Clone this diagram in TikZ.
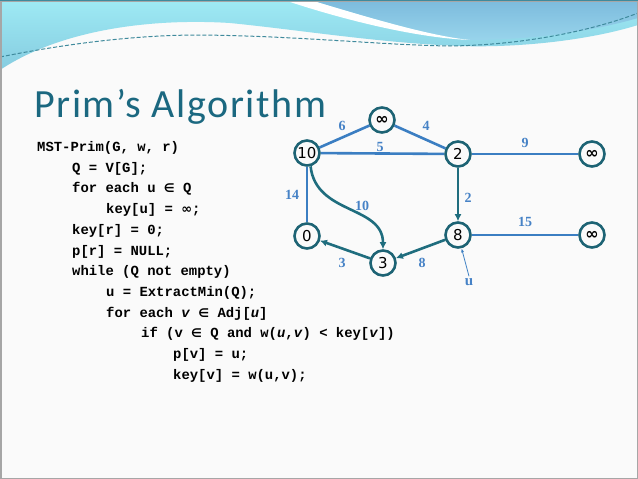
\documentclass[tikz,border=0pt]{standalone}
\usepackage{fontspec}
\setmainfont{Liberation Serif}
\newfontfamily\titlef{Carlito}
\newfontfamily\codef{Liberation Mono}
\newfontfamily\symf{DejaVu Sans}
\usetikzlibrary{arrows.meta}
\definecolor{bgwhite}{HTML}{FAFAFA}
\definecolor{cyanA}{HTML}{9EEAF4}
\definecolor{cyanB}{HTML}{86CCE0}
\definecolor{blueA}{HTML}{7CBBDD}
\definecolor{blueB}{HTML}{98D4EB}
\definecolor{dashc}{HTML}{3F8A9C}
\definecolor{titlec}{HTML}{1B6880}
\definecolor{nodec}{HTML}{1D6374}
\definecolor{treec}{HTML}{1F6D7E}
\definecolor{edgec}{HTML}{3B7EC2}
\definecolor{lblc}{HTML}{4682C6}
\newcommand\myin{{\symf\bfseries\fontsize{12}{14}\selectfont ∈}}
\newcommand\myinf{{\symf\bfseries\fontsize{13}{14}\selectfont ∞}}
\tikzset{
  vtx/.style={circle, draw=nodec, line width=2.6pt, fill=bgwhite, inner sep=0pt,
    minimum size=25pt, font=\symf\fontsize{15}{16}\selectfont},
  infv/.style={vtx, font=\symf\bfseries\fontsize{16}{16}\selectfont},
  edge/.style={draw=edgec, line width=2.6pt},
  tree/.style={draw=treec, line width=2.6pt, -{Latex[length=7pt,width=7pt]}},
  lbl/.style={text=lblc, font=\bfseries\fontsize{14}{14}\selectfont, inner sep=0pt},
  code/.style={anchor=base west, inner sep=0pt, font=\codef\bfseries\fontsize{13.9}{16}\selectfont},
  pointer/.style={draw=edgec, line width=0.8pt, -{Latex[length=4pt,width=3pt]}}
}
\begin{document}
\begin{tikzpicture}[x=1pt, y=-1pt]
\useasboundingbox (0,0) rectangle (638,479);
% background
\fill[bgwhite] (0,0) rectangle (638,479);
\shade[top color=cyanA, bottom color=cyanB] (0,0) -- (638,0) -- (638,25)
  .. controls (590,40) and (520,48) .. (460,46)
  .. controls (380,43) and (300,30) .. (230,23)
  .. controls (150,18) and (60,30) .. (0,70) -- cycle;
\shade[top color=blueA, bottom color=blueB] (310,0) -- (638,0) -- (638,18)
  .. controls (590,32) and (530,40) .. (470,40)
  .. controls (430,36) and (370,18) .. (310,0) -- cycle;
\fill[white] (284,0) -- (310,0) .. controls (370,18) and (430,36) .. (470,40)
  .. controls (420,38) and (350,22) .. (284,0) -- cycle;
\draw[dashc, line width=1pt, dash pattern=on 4pt off 2pt] (0,57)
  .. controls (60,45) and (130,35) .. (200,35)
  .. controls (300,36) and (380,45) .. (450,46)
  .. controls (530,45) and (600,28) .. (638,13);
\draw[gray!70, line width=1.5pt] (0.75,0.75) rectangle (637.25,478.25);
\draw[dashc, line width=1.2pt] (0,0.6) -- (638,0.6);
% title
\node[anchor=base west, inner sep=0pt, text=titlec,
  font=\titlef\fontsize{40}{42}\selectfont\addfontfeatures{LetterSpace=4}] (title) at (34,117) {Prim’s Algorithm};
% code
\node[code] (c1) at (37,151.5) {MST-Prim(G, w, r)};
\node[code] (c2) at (72,172.2) {Q = V[G];};
\node[code] (c3) at (72,192.9) {for each u \myin{} Q};
\node[code] (c4) at (106,213.6) {key[u] = \myinf;};
\node[code] (c5) at (72,234.3) {key[r] = 0;};
\node[code] (c6) at (72,255) {p[r] = NULL;};
\node[code] (c7) at (72,275.7) {while (Q not empty)};
\node[code] (c8) at (106,296.4) {u = ExtractMin(Q);};
\node[code] (c9) at (106,317.1) {for each \textit{v} \myin{} Adj[\textit{u}]};
\node[code] (c10) at (141,337.8) {if (v \myin{} Q and w(\textit{u},\textit{v}) < key[\textit{v}])};
\node[code] (c11) at (173,358.5) {p[v] = u;};
\node[code] (c12) at (173,379.2) {key[v] = w(u,v);};
% graph vertices
\node[vtx] (n10) at (307,153) {10};
\node[infv] (nt) at (382,120) {∞};
\node[vtx] (n2) at (458,154) {2};
\node[infv] (nr1) at (592,154) {∞};
\node[vtx] (n0) at (307,236) {0};
\node[vtx] (n8) at (458,235) {8};
\node[infv] (nr2) at (592,235) {∞};
\node[vtx] (n3) at (383,263) {3};
% edges
\draw[edge] (n10) -- (nt);
\draw[edge] (nt) -- (n2);
\draw[edge] (n10) -- (n2);
\draw[edge] (n2) -- (nr1);
\draw[edge] (n10) -- (n0);
\draw[edge] (n8) -- (nr2);
\draw[tree] (n2) -- (n8);
\draw[tree] (n8) -- (n3);
\draw[tree] (n3) -- (n0);
\draw[tree] (n10.-75) .. controls (316,215) and (383,205) .. (n3.north);
% labels
\node[lbl] (l6) at (342,126) {6};
\node[lbl] (l4) at (426,126) {4};
\node[lbl] (l5) at (380,147) {5};
\node[lbl] (l9) at (525,143) {9};
\node[lbl] (l14) at (292,195) {14};
\node[lbl] (l10) at (362,206) {10};
\node[lbl] (l2) at (468,198) {2};
\node[lbl] (l15) at (525,222) {15};
\node[lbl] (l3) at (342,263) {3};
\node[lbl] (l8) at (422,263) {8};
\node[lbl, font=\bfseries\fontsize{15}{15}\selectfont] (lu) at (469,282) {u};
\draw[pointer] (lu.north) ++(0,-2) coordinate (us) (us) -- (n8);
\end{tikzpicture}
\end{document}
